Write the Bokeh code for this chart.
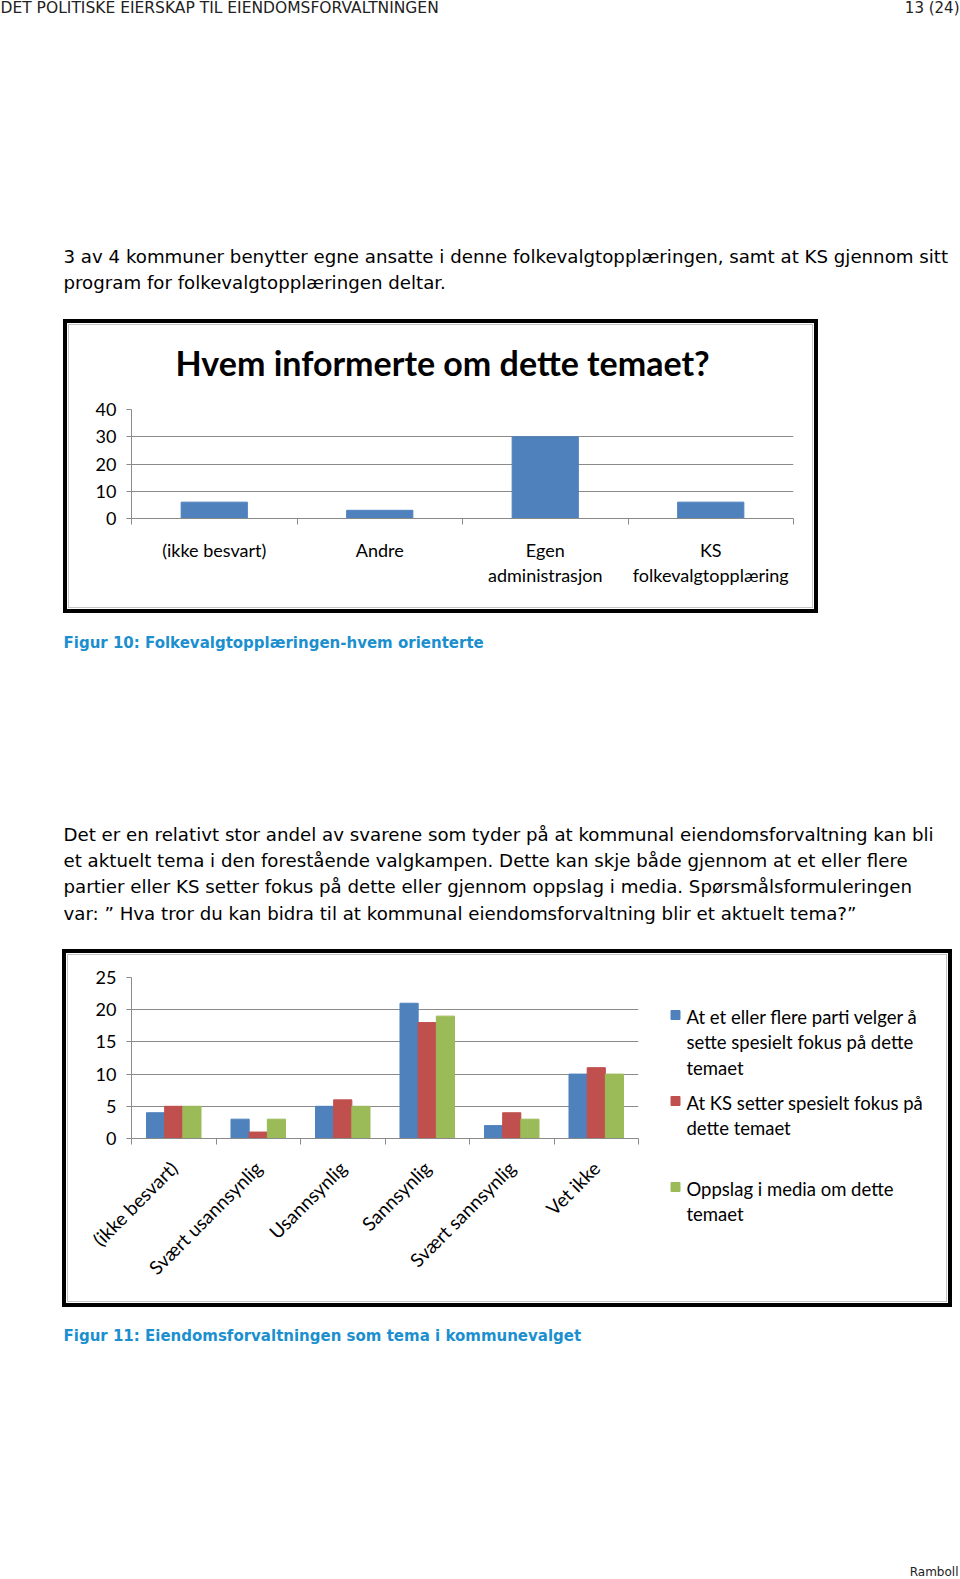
import numpy as np
from bokeh.plotting import figure
from bokeh.layouts import column, row
from bokeh.models import Range1d, FixedTicker, Spacer
from bokeh.core.properties import value
from bokeh.embed import file_html
from bokeh.resources import INLINE

# ---------------- data ----------------
header_left = "DET POLITISKE EIERSKAP TIL EIENDOMSFORVALTNINGEN"
header_right = "13 (24)"
para1_lines = [
    "3 av 4 kommuner benytter egne ansatte i denne folkevalgtopplæringen, samt at KS gjennom sitt",
    "program for folkevalgtopplæringen deltar.",
]
fig1_title = "Hvem informerte om dette temaet?"
fig1_categories = ["(ikke besvart)", "Andre", "Egen\nadministrasjon", "KS\nfolkevalgtopplæring"]
fig1_values = [6, 3, 30, 6]
fig1_yticks = [0, 10, 20, 30, 40]
caption1 = "Figur 10: Folkevalgtopplæringen-hvem orienterte"
para2_lines = [
    "Det er en relativt stor andel av svarene som tyder på at kommunal eiendomsforvaltning kan bli",
    "et aktuelt tema i den forestående valgkampen. Dette kan skje både gjennom at et eller flere",
    "partier eller KS setter fokus på dette eller gjennom oppslag i media.  Spørsmålsformuleringen",
    "var: \u201d Hva tror du kan bidra til at kommunal eiendomsforvaltning blir et aktuelt tema?\u201d",
]
fig2_categories = ["(ikke besvart)", "Svært usannsynlig", "Usannsynlig", "Sannsynlig",
                   "Svært sannsynlig", "Vet ikke"]
fig2_series = [
    "At et eller flere parti velger å\nsette spesielt fokus på dette\ntemaet",
    "At KS setter spesielt fokus på\ndette temaet",
    "Oppslag i media om dette\ntemaet",
]
fig2_parti = [4, 3, 5, 21, 2, 10]
fig2_ks = [5, 1, 6, 18, 4, 11]
fig2_media = [5, 3, 5, 19, 3, 10]
fig2_yticks = [0, 5, 10, 15, 20, 25]
caption2 = "Figur 11: Eiendomsforvaltningen som tema i kommunevalget"
footer = "Ramboll"

# ---------------- styles ----------------
BLUE, RED, GREEN = "#4F81BD", "#C0504D", "#9BBB59"
SERIES_COLORS = [BLUE, RED, GREEN]
GRID = "#8a8a8a"
CAP = "#1c8fcf"
PAGE_FONT = "DejaVu Sans"
CHART_FONT = "Lato"


def bar(w, h, color):
    return Spacer(width=w, height=h, styles={"background-color": color})


def framed(content, w, h):
    """Wrap content in a black outer border, a white gap and a thin grey inner line."""
    layers = [("black", 4), ("white", 1), ("#c4c4c4", 1)]
    inner = content
    cw, ch = w - 12, h - 12
    for color, t in reversed(layers):
        inner = column(bar(cw + 2 * t, t, color),
                       row(bar(t, ch, color), inner, bar(t, ch, color), spacing=0),
                       bar(cw + 2 * t, t, color), spacing=0)
        cw += 2 * t
        ch += 2 * t
    return inner


def text_panel(w, h):
    p = figure(width=w, height=h, x_range=Range1d(0, w), y_range=Range1d(h, 0),
               output_backend="svg", toolbar_location=None, min_border=0,
               x_axis_location=None, y_axis_location=None)
    p.grid.visible = False
    p.outline_line_color = None
    p.background_fill_color = "white"
    p.border_fill_color = "white"
    return p


def put(p, x, y, txt, size, color="#000000", bold=False, align="left", font=PAGE_FONT):
    p.text(x=[x], y=[y], text=[txt], text_font=value(font), text_font_size=size,
           text_color=color, text_baseline="middle", text_align=align,
           text_font_style="bold" if bold else "normal")


def style_axes(p, yticks):
    p.outline_line_color = None
    p.xgrid.visible = False
    p.ygrid.ticker = FixedTicker(ticks=yticks)
    p.ygrid.grid_line_color = GRID
    p.xaxis.major_tick_line_color = None
    p.xaxis.major_tick_out = 0
    p.xaxis.minor_tick_out = 6
    p.xaxis.minor_tick_in = 0
    p.xaxis.minor_tick_line_color = GRID
    p.yaxis.ticker = FixedTicker(ticks=yticks)
    p.yaxis.minor_tick_line_color = None
    p.yaxis.major_tick_in = 0
    p.yaxis.major_tick_out = 5
    p.yaxis.major_tick_line_color = GRID
    p.yaxis.major_label_standoff = 10
    for ax in (p.xaxis, p.yaxis):
        ax.axis_line_color = GRID
        ax.major_label_text_font = CHART_FONT
        ax.major_label_text_font_size = "18px"
        ax.major_label_text_color = "#000000"


# ---------------- top text ----------------
top = text_panel(960, 319)
put(top, 0, 7, header_left, "15.5px", "#222222")
put(top, 959, 7, header_right, "15px", "#222222", align="right")
for i, line in enumerate(para1_lines):
    put(top, 63, 256 + 26.2 * i, line, "18.2px")

# ---------------- chart 1 ----------------
# title strip (inside the chart box, above the plot)
t1 = text_panel(743, 60)
put(t1, 106, 37, fig1_title, "34px", bold=True, font=CHART_FONT)

n1 = len(fig1_categories)
x1 = np.arange(n1) + 0.5
p1 = figure(width=743, height=222, x_range=Range1d(0, n1), y_range=Range1d(0, 40),
            output_backend="svg", toolbar_location=None,
            min_border_left=62, min_border_right=19, min_border_top=24, min_border_bottom=89)
p1.vbar(x=x1, top=fig1_values, width=0.4, color=BLUE)
p1.xaxis.ticker = FixedTicker(ticks=list(x1), minor_ticks=list(range(n1 + 1)))
p1.xaxis.major_label_overrides = {float(x): c for x, c in zip(x1, fig1_categories)}
p1.xaxis.major_label_standoff = 14
p1.xaxis.major_label_text_line_height = 1.15
style_axes(p1, fig1_yticks)

# ---------------- middle text ----------------
mid = text_panel(960, 336)
put(mid, 63, 642 - 613, caption1, "15px", CAP, bold=True)
for i, line in enumerate(para2_lines):
    put(mid, 63, 834 - 613 + 26.2 * i, line, "18.2px")

# ---------------- chart 2 ----------------
n2 = len(fig2_categories)
x2 = np.arange(n2) + 0.5
bw = 0.215
p2 = figure(width=580, height=346, x_range=Range1d(0, n2), y_range=Range1d(0, 25),
            output_backend="svg", toolbar_location=None,
            min_border_left=63, min_border_right=10, min_border_top=22, min_border_bottom=163)
for k, (vals, col) in enumerate(zip([fig2_parti, fig2_ks, fig2_media], SERIES_COLORS)):
    p2.vbar(x=x2 + (k - 1) * bw, top=vals, width=bw, color=col)
p2.xaxis.ticker = FixedTicker(ticks=list(x2), minor_ticks=list(range(n2 + 1)))
p2.xaxis.major_label_overrides = {float(x): c for x, c in zip(x2, fig2_categories)}
p2.xaxis.major_label_orientation = np.pi / 4
p2.xaxis.major_label_standoff = 20
style_axes(p2, fig2_yticks)
p2.xaxis.major_label_text_font_size = "19px"

# legend panel to the right of the plot area (inside the same frame)
lg = text_panel(298, 346)
LINE_H, ITEM_STEP, FIRST_Y = 25.5, 86, 61
for k, (name, col) in enumerate(zip(fig2_series, SERIES_COLORS)):
    y0 = FIRST_Y + ITEM_STEP * k
    lg.rect(x=[27], y=[y0 - 1.5], width=9, height=9, color=col)
    for j, line in enumerate(name.split("\n")):
        put(lg, 38, y0 + LINE_H * j, line, "18.5px", font=CHART_FONT)

# ---------------- bottom text ----------------
bot = text_panel(960, 272)
put(bot, 63, 1335 - 1307, caption2, "15px", CAP, bold=True)
put(bot, 958, 1571 - 1307, footer, "12px", "#222222", align="right")

page = column(
    top,
    row(Spacer(width=63, height=294),
        framed(column(row(t1, spacing=0), row(p1, spacing=0), spacing=0), 755, 294),
        Spacer(width=142, height=294), spacing=0),
    mid,
    row(Spacer(width=62, height=358),
        framed(row(column(p2, spacing=0), column(lg, spacing=0), spacing=0), 890, 358),
        Spacer(width=8, height=358), spacing=0),
    bot,
    spacing=0,
)

open("out.html", "w").write(file_html(page, INLINE))
